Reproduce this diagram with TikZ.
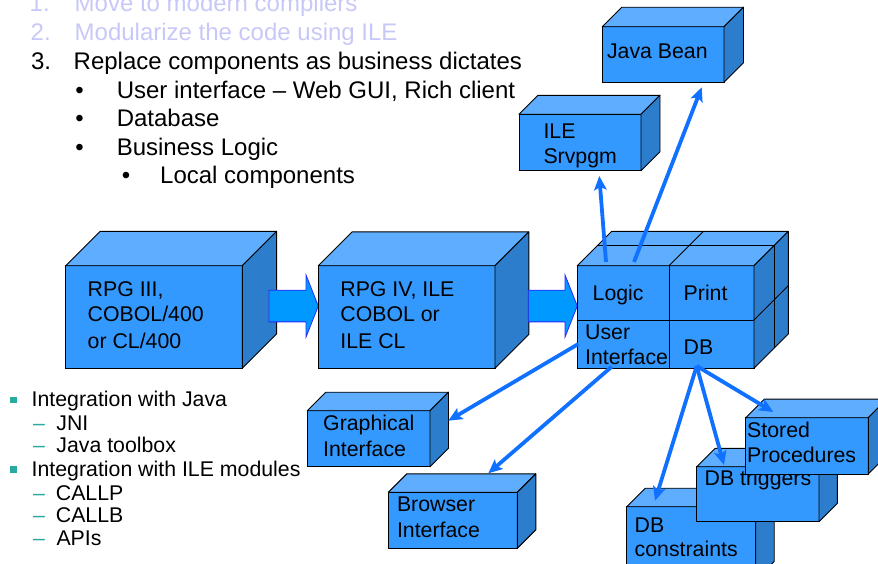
\documentclass[tikz,border=0pt]{standalone}
\usepackage{fontspec}
\setmainfont{Liberation Sans}
\usetikzlibrary{arrows.meta,calc}
\definecolor{frontc}{RGB}{51,153,255}
\definecolor{topc}{RGB}{94,173,255}
\definecolor{sidec}{RGB}{45,125,205}
\definecolor{arrfill}{RGB}{0,153,255}
\definecolor{arrdraw}{RGB}{40,40,255}
\definecolor{connc}{RGB}{16,112,255}
\definecolor{lavc}{RGB}{200,200,248}
\definecolor{tealc}{RGB}{40,170,160}
\tikzset{
  frontface/.style={draw=black, fill=frontc, line width=0.9pt, inner sep=0pt, outer sep=0pt},
  topface/.style={draw=black, fill=topc, line width=0.9pt, line join=round},
  sideface/.style={draw=black, fill=sidec, line width=0.9pt, line join=round},
  divline/.style={draw=black, line width=0.9pt},
  blockarrow/.style={draw=arrdraw, fill=arrfill, line width=0.8pt},
  conn/.style={draw=connc, line width=3.8pt, -{Stealth[length=14pt,width=12.5pt,inset=3pt]}},
  biglbl/.style={inner sep=0pt, anchor=base west, font=\fontsize{24}{28}\selectfont},
  lbl/.style={inner sep=0pt, anchor=base west, font=\fontsize{21.3}{25}\selectfont},
}
\newcommand{\threedbox}[6]{%
  \node[frontface, anchor=north west, minimum width={(#4-#2)*1pt}, minimum height={(#5-#3)*1pt}] (#1) at (#2,#3) {};
  \draw[topface] (#1.north west) -- ([shift={(#6,-#6)}]#1.north west) -- ([shift={(#6,-#6)}]#1.north east) -- (#1.north east) -- cycle;
  \draw[sideface] (#1.north east) -- ([shift={(#6,-#6)}]#1.north east) -- ([shift={(#6,-#6)}]#1.south east) -- (#1.south east) -- cycle;
}
\newcommand{\blockarr}[2]{%
  \draw[blockarrow] let \p1=(#1), \p2=(#2) in
    ({\x1},{\y1+15.85pt}) -- ({\x2-12.3pt},{\y1+15.85pt}) -- ({\x2-12.3pt},{\y1+31.15pt}) --
    ({\x2},{\y1}) -- ({\x2-12.3pt},{\y1-31.15pt}) -- ({\x2-12.3pt},{\y1-15.85pt}) --
    ({\x1},{\y1-15.85pt}) -- cycle;
}
\begin{document}
\begin{tikzpicture}[x=1pt,y=-1pt]
\useasboundingbox (0,0) rectangle (878,563);
\clip (0,0) rectangle (878,563);

% ---- top list ----
\node[biglbl, text=lavc] (n1) at (29.5,11.7) {1.};
\node[biglbl, text=lavc] (t1) at (74.5,11.7) {Move to modern compilers};
\node[biglbl, text=lavc] (n2) at (30.5,40) {2.};
\node[biglbl, text=lavc] (t2) at (74.5,40) {Modularize the code using ILE};
\node[biglbl] (n3) at (30.8,69) {3.};
\node[biglbl] (t3) at (73.5,69) {Replace components as business dictates};
\node[biglbl] (bu1) at (75.2,98.3) {•};
\node[biglbl] (t4) at (116.6,98.3) {User interface – Web GUI, Rich client};
\node[biglbl] (bu2) at (75.2,126) {•};
\node[biglbl] (t5) at (116.6,126) {Database};
\node[biglbl] (bu3) at (75.2,155) {•};
\node[biglbl] (t6) at (116.6,155) {Business Logic};
\node[biglbl] (bu4) at (121.7,183.3) {•};
\node[biglbl] (t7) at (160,183.3) {Local components};

% ---- bottom-left list ----
\node[fill=tealc, minimum size=6.5pt, inner sep=0pt] (sq1) at (13.3,400) {};
\node[lbl] (l1) at (31.5,406) {Integration with Java};
\node[lbl, text=tealc] (d1) at (33,430) {–};
\node[lbl] (l2) at (56.2,430) {JNI};
\node[lbl, text=tealc] (d2) at (33,452.7) {–};
\node[lbl] (l3) at (56.2,452.7) {Java toolbox};
\node[fill=tealc, minimum size=6.5pt, inner sep=0pt] (sq2) at (13.3,469.5) {};
\node[lbl] (l4) at (31.5,476) {Integration with ILE modules};
\node[lbl, text=tealc] (d3) at (33,500) {–};
\node[lbl] (l5) at (55.7,500) {CALLP};
\node[lbl, text=tealc] (d4) at (33,522.7) {–};
\node[lbl] (l6) at (55.7,522.7) {CALLB};
\node[lbl, text=tealc] (d5) at (33,545) {–};
\node[lbl] (l7) at (56.3,545) {APIs};

% ---- main boxes ----
\threedbox{b1}{65.7}{265.7}{242.3}{368.3}{34.3}
\node[lbl] (b1a) at (87.5,296) {RPG III,};
\node[lbl] (b1b) at (87.5,321.7) {COBOL/400};
\node[lbl] (b1c) at (87.5,348.3) {or CL/400};

\coordinate (a1s) at (269,306);
\coordinate (a1e) at (318.3,306);
\blockarr{a1s}{a1e}

\threedbox{b2}{318.3}{265.7}{495}{368.3}{33.8}
\node[lbl] (b2a) at (340.2,296) {RPG IV, ILE};
\node[lbl] (b2b) at (340.2,321.7) {COBOL or};
\node[lbl] (b2c) at (340.2,348.3) {ILE CL};

\coordinate (a2s) at (528.3,306);
\coordinate (a2e) at (577.3,306);
\blockarr{a2s}{a2e}

% ---- cluster ----
\threedbox{cl}{577.3}{265.7}{754}{368.3}{34.3}
\draw[divline] (669,265.7) -- (669,368.3);
\draw[divline] (577.3,320) -- (754,320);
\draw[divline] (669,265.7) -- ++(34.3,-34.3);
\draw[divline] (597.3,245.7) -- (774,245.7);
\draw[divline] (774,245.7) -- (774,348.3);
\draw[divline] (754,320) -- ++(34.3,-34.3);
\node[lbl] (cl1) at (592.5,300) {Logic};
\node[lbl] (cl2) at (683.5,300) {Print};
\node[lbl] (cl3) at (585,339) {User};
\node[lbl] (cl4) at (585,364.3) {Interface};
\node[lbl] (cl5) at (683.5,354.3) {DB};

% ---- upper boxes ----
\threedbox{jb}{602.3}{26.7}{724}{82.3}{19.5}
\node[lbl] (jbt) at (606.8,58.3) {Java Bean};
\threedbox{ile}{519}{114.3}{641}{170.7}{19}
\node[lbl] (ilea) at (543.3,138.3) {ILE};
\node[lbl] (ileb) at (543.3,163.3) {Srvpgm};

% ---- lower boxes ----
\threedbox{gui}{307.3}{410.7}{430}{466.7}{18.5}
\node[lbl] (guia) at (323,430) {Graphical};
\node[lbl] (guib) at (323,456) {Interface};
\threedbox{brw}{388.3}{492.3}{517.3}{548.3}{18.5}
\node[lbl] (brwa) at (396.8,511.7) {Browser};
\node[lbl] (brwb) at (396.8,537.3) {Interface};

\threedbox{con}{626.7}{506.7}{755.7}{580}{18.5}
\node[lbl] (cona) at (634.5,532.7) {DB};
\node[lbl] (conb) at (634.5,556) {constraints};
\threedbox{trg}{696.7}{466.7}{819}{521.7}{18.3}
\node[lbl] (trga) at (704.5,485.7) {DB triggers};
\threedbox{sto}{745.7}{417.7}{868.3}{474}{18.6}
\node[lbl] (stoa) at (747,437.5) {Stored};
\node[lbl] (stob) at (747,462.5) {Procedures};

% ---- connectors ----
\coordinate (logA) at (606,262);
\coordinate (logB) at (634,262);
\coordinate (ileIn) at (599.3,176);
\coordinate (jbIn) at (701.7,87.3);
\coordinate (uiA) at (578.3,344);
\coordinate (uiB) at (611.7,366.7);
\coordinate (guiIn) at (448.3,420.7);
\coordinate (brwIn) at (488.3,473.3);
\coordinate (dbOut) at (696.7,366);
\coordinate (conIn) at (655,500.7);
\coordinate (trgIn) at (724,465);
\coordinate (stoIn) at (773.3,412);
\draw[conn] (logA) -- (ileIn);
\draw[conn] (logB) -- (jbIn);
\draw[conn] (uiA) -- (guiIn);
\draw[conn] (uiB) -- (brwIn);
\draw[conn] (dbOut) -- (conIn);
\draw[conn] (dbOut) -- (trgIn);
\draw[conn] (dbOut) -- (stoIn);
\end{tikzpicture}
\end{document}
